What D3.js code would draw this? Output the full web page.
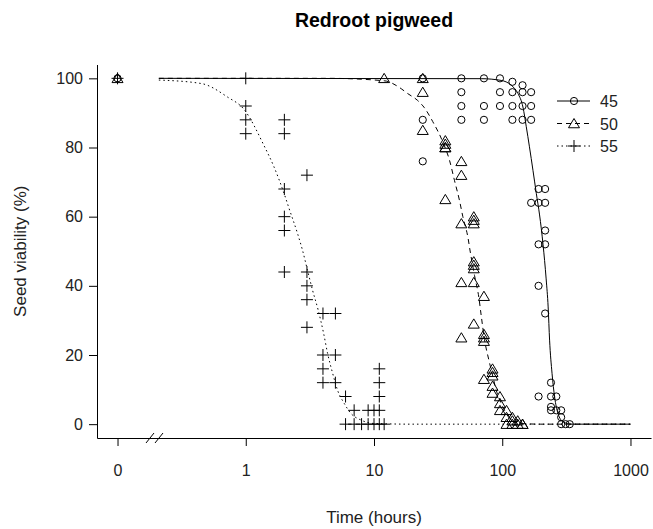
<!DOCTYPE html>
<html>
<head>
<meta charset="utf-8">
<script src="https://cdn.jsdelivr.net/npm/d3@7"></script>
<style>
  body { margin: 0; background: #fff; }
  svg { font-family: "Liberation Sans", Arial, sans-serif; }
</style>
</head>
<body>
<div id="chart"></div>
<script>
// observed seed viability (time in hours, viability %), 0 h plotted at the break
const obs45 = [
  [0,100],[24,100],[24,88],[24,76],
  [48,100],[48,96],[48,92],[48,88],
  [72,100],[72,92],[72,88],
  [96,100],[96,96],[96,92],
  [120,99],[120,96],[120,92],[120,88],
  [144,98],[144,96],[144,92],[144,88],
  [168,96],[168,92],[168,88],[168,64],
  [192,68],[192,64],[192,52],[192,40],[192,8],
  [216,68],[216,64],[216,56],[216,52],[216,32],
  [240,12],[240,8],[240,5],[240,4],
  [264,8],[264,4],
  [288,4],[288,2],[288,0],[312,0],[336,0]
]
const obs50 = [
  [0,100],[12,100],[24,100],[24,96],[24,85],
  [36,82],[36,81],[36,80],[36,80],[36,65],
  [48,76],[48,72],[48,58],[48,41],[48,25],
  [60,60],[60,59],[60,58],[60,47],[60,46],[60,45],[60,41],[60,29],
  [72,37],[72,26],[72,25],[72,24],[72,13],
  [84,16],[84,15],[84,14],[84,11],[84,9],
  [96,8],[96,6],[96,4],
  [108,4],[108,2],[108,0],
  [120,2],[120,1],[120,0],
  [132,1],[132,0],[144,0],[144,0]
]
const obs55 = [
  [0,100],[1,100],[1,92],[1,88],[1,84],
  [2,88],[2,84],[2,68],[2,60],[2,56],[2,44],
  [3,72],[3,44],[3,40],[3,36],[3,28],
  [4,32],[4,20],[4,16],[4,12],
  [5,32],[5,20],[5,12],
  [6,8],[6,0],[7,4],[7,0],[8,0],[9,4],[9,0],[10,4],[10,0],
  [11,16],[11,12],[11,8],[11,4],[11,0],[12,0]
]

// fitted curves
const fit45 = [
  [0.21,100],[68.5,99.9],[98,99.4],[117.5,98],[132.7,95.6],[145,91.7],[154,86],
  [163,80.2],[173.6,73.4],[184.4,66.7],[195.5,60.5],[208,52],[220,42],[228,33.9],
  [234,24.3],[244.5,14.7],[256,7.9],[272,3.1],[298,0.7],[346,0],[1000,0]
]
const fit50 = [
  [0.21,100],[4.35,100],[12,99.3],[16.3,97],[18.3,95.6],[21.9,93.6],[24.7,91.5],
  [28.7,87.5],[34.4,81.6],[38.8,76.3],[42.4,70.5],[46.4,64.7],[49.3,60],[54,54],
  [56.5,49.5],[60.8,43],[65.8,36.5],[68.5,31.5],[72.7,24.5],[78.7,18.5],[84.6,13.7],
  [89.8,9.8],[98.2,6],[107.5,3.1],[117.5,1.2],[140,0.2],[200,0],[1000,0]
]
const fit55 = [
  [0.21,99.5],[0.45,98.5],[0.72,94.6],[0.97,91],[1.39,80.5],[1.66,74.4],[1.99,66.7],
  [2.18,62.3],[2.54,55],[2.77,50.3],[3.03,44.5],[3.32,38.7],[3.67,33],[4.05,26.2],
  [4.35,20.4],[4.76,14.7],[5.2,9.8],[5.86,6],[6.61,3.1],[7.91,1.2],[10,0.2],[20,0],[1000,0]
]

const temps = ['45', '50', '55']
const xTicks = [0.1, 1, 10, 100, 1000]
const xTickLabels = ['0', '1', '10', '100', '1000']
const yTicks = [0, 20, 40, 60, 80, 100]

const width = 653
const height = 529

const svg = d3.select('#chart').append('svg')
  .attr('width', width)
  .attr('height', height)

const x = d3.scaleLog()
  .domain([0.1 / Math.pow(10, 0.16), 1000 * Math.pow(10, 0.16)])
  .range([97, 651])
const y = d3.scaleLinear()
  .domain([-4, 104])
  .range([438, 64.5])

function xPos(t) { return t === 0 ? x(0.1) : x(t) }

// axes
svg.append('g')
  .attr('transform', `translate(0,${y.range()[0]})`)
  .call(d3.axisBottom(x)
    .tickValues(xTicks)
    .tickFormat((d, i) => xTickLabels[i])
    .tickSize(8)
    .tickSizeOuter(0)
    .tickPadding(19))
svg.append('g')
  .attr('transform', `translate(${x.range()[0]},0)`)
  .call(d3.axisLeft(y)
    .tickValues(yTicks)
    .tickSize(8)
    .tickSizeOuter(0)
    .tickPadding(6))

svg.selectAll('.domain, .tick line').attr('stroke', '#000').attr('stroke-width', 1)
svg.selectAll('.tick text')
  .attr('font-size', '16px')
  .attr('fill', '#222')
  .attr('font-family', '"Liberation Sans", Arial, sans-serif')

// axis break marks
const brk = svg.append('g').attr('stroke', '#000').attr('stroke-width', 1)
;[150, 159].forEach(cx => {
  brk.append('line')
    .attr('x1', cx - 4).attr('y1', y.range()[0] + 5)
    .attr('x2', cx + 4).attr('y2', y.range()[0] - 5)
})

// curves
const line = d3.line()
  .x(d => x(d[0]))
  .y(d => y(d[1]))
  .curve(d3.curveMonotoneX)

const styles = {
  '45': { dash: null, data: fit45, obs: obs45 },
  '50': { dash: '5,4', data: fit50, obs: obs50 },
  '55': { dash: '1.5,3', data: fit55, obs: obs55 }
}

temps.forEach(k => {
  svg.append('path')
    .datum(styles[k].data)
    .attr('d', line)
    .attr('fill', 'none')
    .attr('stroke', '#000')
    .attr('stroke-width', 1)
    .attr('stroke-dasharray', styles[k].dash)
})

function drawSymbol(g, k, cx, cy) {
  if (k === '45') {
    g.append('circle').attr('cx', cx).attr('cy', cy).attr('r', 3.6)
      .attr('fill', 'none').attr('stroke', '#000')
  } else if (k === '50') {
    const s = 5
    g.append('path')
      .attr('d', `M${cx},${cy - s}L${cx + s * 1.1},${cy + s * 0.85}L${cx - s * 1.1},${cy + s * 0.85}Z`)
      .attr('fill', 'none').attr('stroke', '#000')
  } else {
    const s = 6
    g.append('path')
      .attr('d', `M${cx - s},${cy}H${cx + s}M${cx},${cy - s}V${cy + s}`)
      .attr('fill', 'none').attr('stroke', '#000')
  }
}

temps.forEach(k => {
  const g = svg.append('g')
  styles[k].obs.forEach(d => drawSymbol(g, k, xPos(d[0]), y(d[1])))
})

// legend
const legend = svg.append('g')
temps.forEach((k, i) => {
  const ly = 101 + i * 22.5
  legend.append('line')
    .attr('x1', 557).attr('x2', 590)
    .attr('y1', ly).attr('y2', ly)
    .attr('stroke', '#000')
    .attr('stroke-dasharray', styles[k].dash)
  drawSymbol(legend, k, 574, ly)
  legend.append('text')
    .attr('x', 600).attr('y', ly + 6)
    .attr('font-size', '16px')
    .attr('fill', '#222')
    .text(k)
})

// titles
svg.append('text')
  .attr('x', 374).attr('y', 27)
  .attr('text-anchor', 'middle')
  .attr('font-size', '19.5px')
  .attr('font-weight', 'bold')
  .attr('fill', '#000')
  .text('Redroot pigweed')

svg.append('text')
  .attr('x', 374).attr('y', 523)
  .attr('text-anchor', 'middle')
  .attr('font-size', '17px')
  .attr('fill', '#222')
  .text('Time (hours)')

svg.append('text')
  .attr('transform', `translate(26,${(y(0) + y(100)) / 2}) rotate(-90)`)
  .attr('text-anchor', 'middle')
  .attr('font-size', '17px')
  .attr('fill', '#222')
  .text('Seed viability (%)')
</script>
</body>
</html>
